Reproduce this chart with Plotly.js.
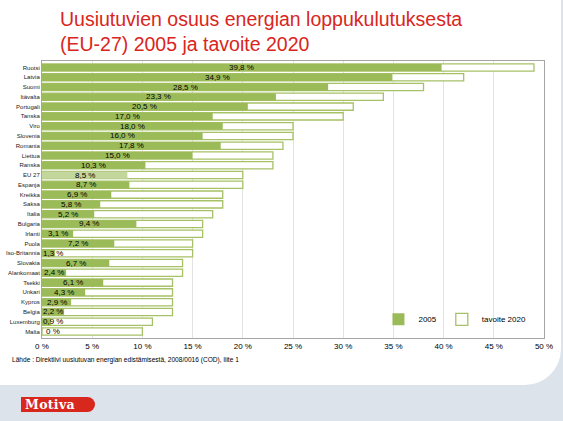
<!DOCTYPE html>
<html>
<head>
<meta charset="utf-8">
<script src="https://cdn.plot.ly/plotly-3.0.1.min.js"></script>
<style>
html,body{margin:0;padding:0;}
body{width:563px;height:421px;background:#dce3ea;position:relative;overflow:hidden;font-family:"Liberation Sans",Arial,sans-serif;}
#bg{position:absolute;left:0;top:0;width:561px;height:385px;background:#ffffff;border-bottom-right-radius:36px;}
#chart{position:absolute;left:0;top:0;width:563px;height:421px;}
#logo{position:absolute;left:21px;top:397px;width:70px;height:15px;background:#d8281e;border-radius:0 8px 8px 0;color:#fff;font-family:"DejaVu Serif","Liberation Serif",serif;font-weight:bold;font-size:12.5px;line-height:15px;padding-left:4px;letter-spacing:0.3px;}
</style>
</head>
<body>
<div id="bg"></div>
<div id="logo">Motiva</div>
<div id="chart"></div>
<script>
const countries = ["Ruotsi","Latvia","Suomi","Itävalta","Portugali","Tanska","Viro","Slovenia","Romania","Liettua","Ranska","EU 27","Espanja","Kreikka","Saksa","Italia","Bulgaria","Irlanti","Puola","Iso-Britannia","Slovakia","Alankomaat","Tsekki","Unkari","Kypros","Belgia","Luxemburg","Malta"];
const share2005 = [39.8,34.9,28.5,23.3,20.5,17.0,18.0,16.0,17.8,15.0,10.3,8.5,8.7,6.9,5.8,5.2,9.4,3.1,7.2,1.3,6.7,2.4,6.1,4.3,2.9,2.2,0.9,0];
const target2020 = [49,42,38,34,31,30,25,25,24,23,23,20,20,18,18,17,16,16,15,15,14,14,13,13,13,13,11,10];
const tickVals = [0,5,10,15,20,25,30,35,40,45,50];
const tickText = ["0 %","5 %","10 %","15 %","20 %","25 %","30 %","35 %","40 %","45 %","50 %"];

const green = "#9bbb59";
const lightGreen = "#c3d69b";
const FONT = "Liberation Sans, Arial, sans-serif";

function fmt(v){ return v === 0 ? "0 %" : v.toFixed(1).replace(".", ",") + " %"; }

const traces = [
  {
    type: "bar", orientation: "h", name: "tavoite 2020",
    y: countries, x: target2020, width: 0.74,
    marker: {color: "#ffffff", line: {color: "#a7c167", width: 1.3}},
    hoverinfo: "skip"
  },
  {
    type: "bar", orientation: "h", name: "2005",
    y: countries, x: share2005, width: 0.74,
    marker: {color: countries.map(c => c === "EU 27" ? lightGreen : green), line: {width: 0}},
    hoverinfo: "skip"
  }
];

const annotations = countries.map((c, i) => ({
  xref: "x", yref: "y", x: Math.max(share2005[i] / 2, 1.05), y: c,
  text: fmt(share2005[i]), showarrow: false, xanchor: "center", yanchor: "middle",
  font: {family: FONT, size: 8, color: "#000"}
}));
annotations.push({
  xref: "paper", yref: "paper", x: -0.064, y: -0.079, xanchor: "left", yanchor: "middle",
  showarrow: false, text: "Lähde : Direktiivi uusiutuvan energian edistämisestä, 2008/0016 (COD), liite 1",
  font: {family: FONT, size: 6.6, color: "#000"}
});
annotations.push({
  xref: "paper", yref: "paper", x: (58 - 42) / 502, y: (338 - 6) / 277, xanchor: "left", yanchor: "top",
  align: "left", showarrow: false,
  text: "Uusiutuvien osuus energian loppukulutuksesta<br>(EU-27) 2005 ja tavoite 2020",
  font: {family: FONT, size: 19.5, color: "#d9261c"}
});

const layout = {
  width: 563, height: 421,
  margin: {l: 42, r: 19, t: 61, b: 83},
  paper_bgcolor: "rgba(0,0,0,0)", plot_bgcolor: "#ffffff",
  barmode: "overlay",
  showlegend: true,
  xaxis: {
    range: [0, 50], tickvals: tickVals, ticktext: tickText,
    showgrid: true, gridcolor: "#e3e3e3", gridwidth: 1,
    showline: true, mirror: true, linecolor: "#a6a6a6", linewidth: 1,
    zeroline: false, ticks: "", automargin: false,
    tickfont: {family: FONT, size: 8, color: "#000"}
  },
  yaxis: {
    categoryorder: "array", categoryarray: countries,
    autorange: "reversed", automargin: false,
    showline: true, mirror: true, linecolor: "#a6a6a6", linewidth: 1,
    ticks: "", showgrid: false,
    tickfont: {family: FONT, size: 6, color: "#222"}
  },
  legend: {
    orientation: "h", x: 0.975, xanchor: "right", y: 0.015, yanchor: "bottom",
    traceorder: "reversed", bgcolor: "rgba(0,0,0,0)",
    font: {family: FONT, size: 8, color: "#000"},
    itemwidth: 30, entrywidth: 0
  },
  annotations: annotations
};

Plotly.newPlot("chart", traces, layout, {displayModeBar: false, staticPlot: true});
</script>
</body>
</html>
